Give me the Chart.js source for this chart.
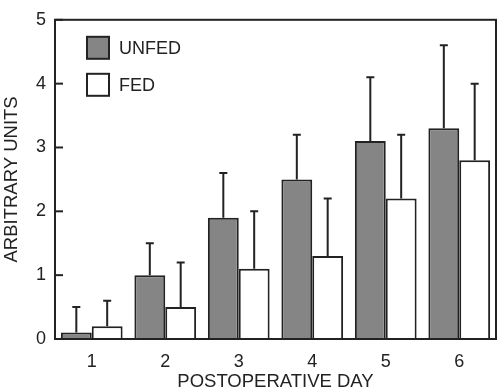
<!DOCTYPE html>
<html>
<head>
<meta charset="utf-8">
<script src="https://cdn.jsdelivr.net/npm/chart.js@4.4.1/dist/chart.umd.min.js"></script>
<style>
  html, body { margin: 0; padding: 0; background: #fff; }
  #wrap { width: 500px; height: 390px; }
</style>
</head>
<body>
<div id="wrap"><canvas id="grafico"></canvas></div>
<script>
const days = ['1', '2', '3', '4', '5', '6'];
const unfed = [0.1, 1.0, 1.9, 2.5, 3.1, 3.3];
const unfedErr = [0.4, 0.5, 0.7, 0.7, 1.0, 1.3];
const fed = [0.2, 0.5, 1.1, 1.3, 2.2, 2.8];
const fedErr = [0.4, 0.7, 0.9, 0.9, 1.0, 1.2];
const yTicks = [0, 1, 2, 3, 4, 5];

const ink = '#222222';
const fontFam = '"Liberation Sans", Arial, Helvetica, sans-serif';

// error bars, inward ticks, frame and legend drawn on top of the bars
const extras = {
    id: 'extras',
    afterDatasetsDraw(chart) {
        const ctx = chart.ctx;
        const y = chart.scales.y;
        const area = chart.chartArea;
        const errs = [unfedErr, fedErr];
        ctx.save();
        ctx.strokeStyle = ink;
        ctx.lineWidth = 2;
        chart.data.datasets.forEach(function(ds, i) {
            chart.getDatasetMeta(i).data.forEach(function(bar, j) {
                const top = y.getPixelForValue(ds.data[j] + errs[i][j]);
                ctx.beginPath();
                ctx.moveTo(bar.x, bar.y);
                ctx.lineTo(bar.x, top);
                ctx.moveTo(bar.x - 4, top);
                ctx.lineTo(bar.x + 4, top);
                ctx.stroke();
            });
        });
        // frame
        ctx.strokeRect(area.left, area.top, area.right - area.left, area.bottom - area.top);
        // inward ticks
        yTicks.forEach(function(v) {
            const py = y.getPixelForValue(v);
            ctx.beginPath();
            ctx.moveTo(area.left, py);
            ctx.lineTo(area.left + 8, py);
            ctx.stroke();
        });
        // legend
        ctx.font = '18px ' + fontFam;
        ctx.textBaseline = 'middle';
        chart.data.datasets.forEach(function(ds, i) {
            const bx = area.left + 32;
            const by = area.top + 17 + i * 37;
            ctx.fillStyle = ds.backgroundColor;
            ctx.fillRect(bx, by, 22, 22);
            ctx.strokeRect(bx, by, 22, 22);
            ctx.fillStyle = ink;
            ctx.fillText(ds.label, bx + 32, by + 12);
        });
        ctx.restore();
    }
};

new Chart(document.getElementById('grafico').getContext('2d'), {
    type: 'bar',
    data: {
        labels: days,
        datasets: [{
            label: 'UNFED',
            data: unfed,
            backgroundColor: '#858585',
            borderColor: ink,
            borderWidth: 2,
            categoryPercentage: 0.84,
            barPercentage: 1.0
        }, {
            label: 'FED',
            data: fed,
            backgroundColor: '#ffffff',
            borderColor: ink,
            borderWidth: 2,
            categoryPercentage: 0.84,
            barPercentage: 1.0
        }]
    },
    options: {
        responsive: true,
        maintainAspectRatio: false,
        animation: false,
        layout: { padding: { top: 7, right: 4, left: 0, bottom: 0 } },
        plugins: {
            legend: { display: false },
            tooltip: { enabled: false }
        },
        scales: {
            x: {
                grid: { display: false, drawTicks: false },
                border: { display: true, color: ink, width: 2 },
                ticks: { color: ink, font: { family: fontFam, size: 18 }, padding: 12 },
                title: {
                    display: true,
                    text: 'POSTOPERATIVE DAY',
                    color: ink,
                    font: { family: fontFam, size: 18.5 },
                    padding: { top: 0, bottom: -3 }
                },
                afterFit: function(scale) { scale.height = 51; }
            },
            y: {
                min: 0,
                max: 5,
                grid: { display: false, drawTicks: false },
                border: { display: true, color: ink, width: 2 },
                ticks: { stepSize: 1, color: ink, font: { family: fontFam, size: 18 }, padding: 9 },
                title: {
                    display: true,
                    text: 'ARBITRARY UNITS',
                    color: ink,
                    font: { family: fontFam, size: 18.5 },
                    padding: { top: 1, bottom: 0 }
                },
                afterFit: function(scale) { scale.width = 55; }
            }
        }
    },
    plugins: [extras]
});
</script>
</body>
</html>
